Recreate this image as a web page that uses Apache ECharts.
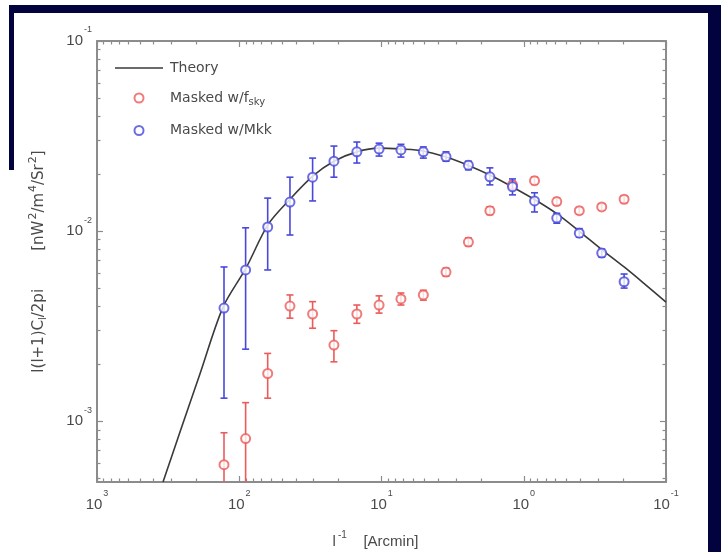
<!DOCTYPE html>
<html>
<head>
<meta charset="utf-8">
<style>
html,body{margin:0;padding:0;background:#fff;}
#c{width:721px;height:552px;}
</style>
<script src="https://cdn.jsdelivr.net/npm/echarts@6/dist/echarts.min.js"></script>
</head>
<body>
<div id="c"></div>
<script>
// ---- data ----
var binX = [128, 90.2, 63.1, 44.0, 30.5, 21.6, 14.9, 10.4, 7.3, 5.08, 3.52, 2.45, 1.73, 1.20, 0.84, 0.586, 0.407, 0.283, 0.197];

var blueY  = [3.93e-3, 6.24e-3, 1.05e-2, 1.42e-2, 1.92e-2, 2.33e-2, 2.61e-2, 2.70e-2, 2.67e-2, 2.61e-2, 2.46e-2, 2.22e-2, 1.93e-2, 1.71e-2, 1.44e-2, 1.17e-2, 9.75e-3, 7.66e-3, 5.41e-3];
var blueLo = [1.32e-3, 2.39e-3, 6.24e-3, 9.53e-3, 1.44e-2, 1.92e-2, 2.28e-2, 2.48e-2, 2.45e-2, 2.42e-2, 2.33e-2, 2.10e-2, 1.75e-2, 1.55e-2, 1.26e-2, 1.10e-2, 9.29e-3, 7.30e-3, 5.01e-3];
var blueHi = [6.47e-3, 1.04e-2, 1.49e-2, 1.92e-2, 2.42e-2, 2.80e-2, 2.94e-2, 2.90e-2, 2.86e-2, 2.77e-2, 2.61e-2, 2.33e-2, 2.15e-2, 1.88e-2, 1.59e-2, 1.24e-2, 1.03e-2, 8.04e-3, 5.94e-3];

var redY  = [5.90e-4, 8.09e-4, 1.78e-3, 4.03e-3, 3.66e-3, 2.51e-3, 3.66e-3, 4.08e-3, 4.39e-3, 4.61e-3, 6.08e-3, 8.75e-3, 1.28e-2, 1.75e-2, 1.84e-2, 1.43e-2, 1.28e-2, 1.34e-2, 1.47e-2];
var redLo = [1.0e-4, 1.0e-4, 1.32e-3, 3.48e-3, 3.08e-3, 2.05e-3, 3.27e-3, 3.70e-3, 4.08e-3, 4.33e-3, 5.80e-3, 8.35e-3, 1.22e-2, 1.67e-2, 1.76e-2, 1.37e-2, 1.23e-2, 1.29e-2, 1.41e-2];
var redHi = [8.68e-4, 1.25e-3, 2.27e-3, 4.61e-3, 4.25e-3, 2.99e-3, 4.08e-3, 4.56e-3, 4.72e-3, 4.88e-3, 6.38e-3, 9.20e-3, 1.34e-2, 1.83e-2, 1.92e-2, 1.49e-2, 1.33e-2, 1.39e-2, 1.53e-2];

var theoryX = [343.6, 261, 189, 130, 89.7, 62.8, 44.0, 30.3, 21.6, 14.9, 10.4, 7.29, 5.11, 3.52, 2.47, 1.73, 1.21, 0.834, 0.583, 0.409, 0.286, 0.197, 0.141, 0.1];
var theoryY = [4.78e-4, 8.75e-4, 1.77e-3, 3.98e-3, 6.38e-3, 1.08e-2, 1.47e-2, 1.95e-2, 2.33e-2, 2.61e-2, 2.73e-2, 2.70e-2, 2.64e-2, 2.45e-2, 2.22e-2, 1.97e-2, 1.71e-2, 1.46e-2, 1.23e-2, 1.00e-2, 8.04e-3, 6.47e-3, 5.26e-3, 4.23e-3];

var xMajor = [0.1, 1, 10, 100, 1000];
var yMajor = [0.001, 0.01, 0.1];
var xMin = 0.1, xMax = 1000, yMin = 4.78e-4, yMax = 0.1;

// ---- helpers ----
function minorsFor(lo, hi) {
  var out = [];
  for (var e = -5; e <= 4; e++) {
    for (var m = 2; m <= 9; m++) {
      var v = parseFloat((m * Math.pow(10, e)).toPrecision(6));
      if (v > lo && v < hi) out.push(v);
    }
  }
  return out;
}
var xMinor = minorsFor(xMin, xMax);
var yMinor = minorsFor(yMin, yMax);

var FONT = "'Liberation Sans', Arial, sans-serif";
var WFONT = "'DejaVu Sans', 'Liberation Sans', sans-serif";
var TXT = '#4a4a4a';
var AXC = '#8c8c8c';
var RED = '#ec5a5a';
var BLUE = '#4848dc';

function powLabel(v) {
  var e = Math.round(Math.log(v) / Math.LN10);
  return '{b|10}{s|' + e + '}';
}
var labRich = {
  b: { fontSize: 15, color: TXT, fontFamily: FONT },
  s: { fontSize: 9, color: TXT, fontFamily: FONT, padding: [0, 0, 22, 1] }
};

function pairs(xs, ys) { return xs.map(function (x, i) { return [x, ys[i]]; }); }
function errData(xs, lo, hi) { return xs.map(function (x, i) { return [x, lo[i], hi[i]]; }); }

function errRender(color) {
  return function (params, api) {
    var x = api.value(0);
    var p1 = api.coord([x, api.value(1)]);
    var p2 = api.coord([x, api.value(2)]);
    var w = 3.5;
    var st = { stroke: color, lineWidth: 1.6 };
    return {
      type: 'group',
      children: [
        { type: 'line', shape: { x1: p1[0], y1: p1[1], x2: p2[0], y2: p2[1] }, style: st },
        { type: 'line', shape: { x1: p1[0] - w, y1: p1[1], x2: p1[0] + w, y2: p1[1] }, style: st },
        { type: 'line', shape: { x1: p2[0] - w, y1: p2[1], x2: p2[0] + w, y2: p2[1] }, style: st }
      ]
    };
  };
}

function xAxisDef(pos, ticks, len, showLine, labels) {
  return {
    type: 'log', logBase: 10, inverse: true, min: xMin, max: xMax, position: pos,
    axisLine: { show: showLine, lineStyle: { color: AXC, width: 2 } },
    axisTick: { show: true, inside: true, length: len, customValues: ticks, lineStyle: { color: AXC, width: 1.2 } },
    axisLabel: labels ? { show: true, customValues: xMajor, formatter: powLabel, rich: labRich, margin: 7 } : { show: false },
    splitLine: { show: false }, minorTick: { show: false }, minorSplitLine: { show: false }
  };
}
function yAxisDef(pos, ticks, len, showLine, labels) {
  return {
    type: 'log', logBase: 10, min: yMin, max: yMax, position: pos,
    axisLine: { show: showLine, lineStyle: { color: AXC, width: 2 } },
    axisTick: { show: true, inside: true, length: len, customValues: ticks, lineStyle: { color: AXC, width: 1.2 } },
    axisLabel: labels ? { show: true, customValues: yMajor, formatter: powLabel, rich: labRich, margin: 5 } : { show: false },
    splitLine: { show: false }, minorTick: { show: false }, minorSplitLine: { show: false }
  };
}

var xAxes = [
  xAxisDef('bottom', xMajor, 6, true, true),
  xAxisDef('bottom', xMinor, 3.5, false, false),
  xAxisDef('top', xMajor, 6, true, false),
  xAxisDef('top', xMinor, 3.5, false, false)
];
xAxes[0].name = '{a|l}{sp|-1}{a|    [Arcmin]}';
xAxes[0].nameLocation = 'middle';
xAxes[0].nameGap = 48;
xAxes[0].nameTextStyle = {
  color: TXT, fontFamily: FONT, fontSize: 15, padding: [0, 12, 0, 0],
  rich: {
    a: { fontSize: 15, color: TXT, fontFamily: FONT },
    sp: { fontSize: 10, color: TXT, fontFamily: FONT, padding: [0, 0, 14, 2] }
  }
};

var yAxes = [
  yAxisDef('left', yMajor, 6, true, true),
  yAxisDef('left', yMinor, 3.5, false, false),
  yAxisDef('right', yMajor, 6, true, false),
  yAxisDef('right', yMinor, 3.5, false, false)
];
yAxes[0].name = '{a|l(l+1)C}{sb|l}{a|/2pi        [nW}{sp|2}{a|/m}{sp|4}{a|/Sr}{sp|2}{a|]}';
yAxes[0].nameLocation = 'middle';
yAxes[0].nameGap = 46;
yAxes[0].nameTextStyle = {
  color: TXT, fontFamily: WFONT, fontSize: 15,
  rich: {
    a: { fontSize: 15, color: TXT, fontFamily: WFONT },
    sp: { fontSize: 11, color: TXT, fontFamily: WFONT, padding: [0, 0, 12, 1] },
    sb: { fontSize: 10, color: TXT, fontFamily: WFONT, padding: [8, 0, 0, 0] }
  }
};

var chart = echarts.init(document.getElementById('c'), null, { renderer: 'canvas' });
chart.setOption({
  animation: false,
  backgroundColor: '#ffffff',
  graphic: [
    { type: 'rect', z: -10, shape: { x: 9, y: 5, width: 712, height: 8 }, style: { fill: '#02023f' } },
    { type: 'rect', z: -10, shape: { x: 9, y: 5, width: 5, height: 165 }, style: { fill: '#02023f' } },
    { type: 'rect', z: -10, shape: { x: 708, y: 5, width: 13, height: 547 }, style: { fill: '#02023f' } }
  ],
  grid: { left: 97, right: 55, top: 41, bottom: 70, containLabel: false, outerBoundsMode: 'none' },
  legend: {
    left: 115, top: 61, padding: 0, orient: 'vertical', itemWidth: 48, itemHeight: 9, itemGap: 16,
    data: [
      { name: 'Theory', icon: 'path://M0,0 L48,0 L48,1.6 L0,1.6 Z' },
      { name: 'Masked w/fsky' },
      { name: 'Masked w/Mkk' }
    ],
    formatter: function (n) { return n === 'Masked w/fsky' ? '{t|Masked w/f}{sb|sky}' : '{t|' + n + '}'; },
    textStyle: {
      color: TXT, fontFamily: WFONT, fontSize: 14, padding: [0, 0, 0, 2],
      rich: {
        t: { fontSize: 14, color: TXT, fontFamily: WFONT, lineHeight: 16 },
        sb: { fontSize: 10, color: TXT, fontFamily: WFONT, padding: [9, 0, 0, 0] }
      }
    }
  },
  xAxis: xAxes,
  yAxis: yAxes,
  series: [
    {
      name: 'Theory', type: 'line', data: pairs(theoryX, theoryY), symbol: 'none', smooth: 0.3,
      clip: true, lineStyle: { color: '#3a3a3a', width: 1.6 }, itemStyle: { color: '#3a3a3a' }, z: 2
    },
    {
      name: 'errRed', type: 'custom', data: errData(binX, redLo, redHi), renderItem: errRender(RED),
      clip: true, encode: { x: 0, y: [1, 2] }, z: 3, silent: true
    },
    {
      name: 'Masked w/fsky', type: 'scatter', data: pairs(binX, redY), symbol: 'emptyCircle', symbolSize: 9,
      itemStyle: { color: RED, borderColor: RED, borderWidth: 1.6 }, z: 4
    },
    {
      name: 'errBlue', type: 'custom', data: errData(binX, blueLo, blueHi), renderItem: errRender(BLUE),
      clip: true, encode: { x: 0, y: [1, 2] }, z: 5, silent: true
    },
    {
      name: 'Masked w/Mkk', type: 'scatter', data: pairs(binX, blueY), symbol: 'emptyCircle', symbolSize: 9,
      itemStyle: { color: BLUE, borderColor: BLUE, borderWidth: 1.6 }, z: 6
    }
  ]
});
</script>
</body>
</html>
